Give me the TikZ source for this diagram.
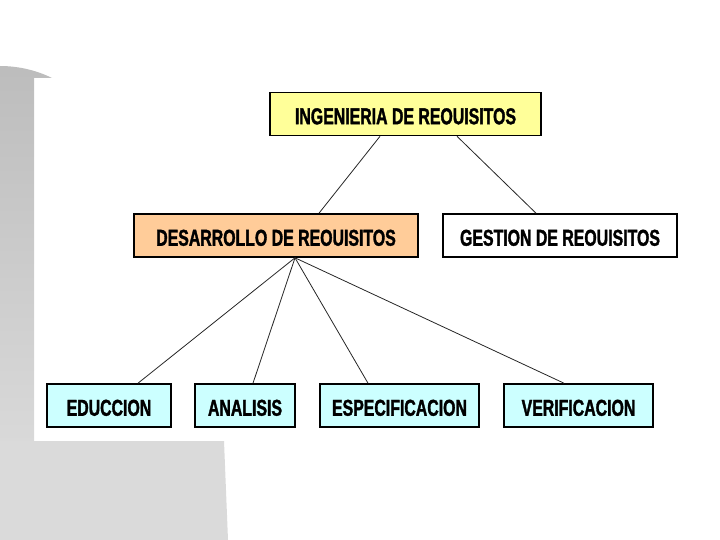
\documentclass[tikz,border=0pt]{standalone}
\usepackage{fontspec}
\newfontfamily\boxfont[FakeStretch=0.69,FakeBold=1.5]{Liberation Sans Bold}
\tikzset{
  box/.style={draw=black, line width=1.6pt, rectangle, minimum height=43pt, inner sep=0pt,
    font=\boxfont\fontsize{23}{23}\selectfont, text depth=0pt, text height=16.5pt},
  link/.style={draw=black!85, line width=0.8pt}
}
\newcommand{\bxt}[1]{\raisebox{-2pt}{#1}}
\begin{document}
\begin{tikzpicture}[x=1pt,y=-1pt]
\useasboundingbox (0,0) rectangle (720,540);
% slide template gray shapes
\shade[top color=black!26, bottom color=black!15]
  (0,66) .. controls (20,66) and (38,71) .. (52,78) -- (34,78) -- (34,441) -- (0,441) -- cycle;
\fill[black!14.5] (0,441) -- (224,441) -- (228,540) -- (0,540) -- cycle;
% nodes
\node[box, fill={rgb,255:red,255;green,255;blue,153}, minimum width=271pt] (ing) at (405.5,114) {\bxt{INGENIERIA DE REOUISITOS}};
\node[box, fill={rgb,255:red,255;green,204;blue,153}, minimum width=284pt] (des) at (276,235.5) {\bxt{DESARROLLO DE REOUISITOS}};
\node[box, fill=white, minimum width=234pt] (ges) at (560,235.5) {\bxt{GESTION DE REOUISITOS}};
\node[box, fill={rgb,255:red,204;green,255;blue,255}, minimum width=124pt] (edu) at (109,405.5) {\bxt{EDUCCION}};
\node[box, fill={rgb,255:red,204;green,255;blue,255}, minimum width=100pt] (ana) at (245,405.5) {\bxt{ANALISIS}};
\node[box, fill={rgb,255:red,204;green,255;blue,255}, minimum width=159pt] (esp) at (399.5,405.5) {\bxt{ESPECIFICACION}};
\node[box, fill={rgb,255:red,204;green,255;blue,255}, minimum width=149pt] (ver) at (578.5,405.5) {\bxt{VERIFICACION}};
% connectors
\draw[link] ([xshift=-25.5pt]ing.south) -- ([xshift=43pt]des.north);
\draw[link] ([xshift=51.5pt]ing.south) -- ([xshift=-24pt]ges.north);
\draw[link] ([xshift=19pt]des.south) -- ([xshift=29pt]edu.north);
\draw[link] ([xshift=19pt]des.south) -- ([xshift=8pt]ana.north);
\draw[link] ([xshift=19pt]des.south) -- ([xshift=-31.5pt]esp.north);
\draw[link] ([xshift=19pt]des.south) -- ([xshift=-14.5pt]ver.north);
\end{tikzpicture}
\end{document}
